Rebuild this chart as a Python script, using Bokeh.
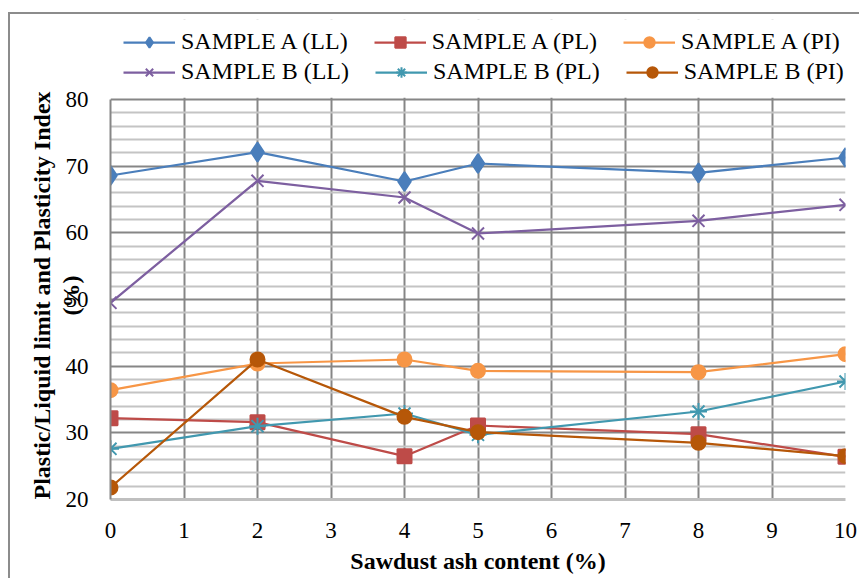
from bokeh.plotting import figure
from bokeh.models import Range1d, FixedTicker, Legend, LegendItem, BoxAnnotation
from bokeh.embed import file_html
from bokeh.resources import INLINE

# ---- data ----
ash_content = [0, 2, 4, 5, 8, 10]
sample_a_ll = [68.6, 72.1, 67.7, 70.4, 69.0, 71.3]
sample_a_pl = [32.2, 31.6, 26.5, 31.1, 29.8, 26.4]
sample_a_pi = [36.4, 40.4, 41.0, 39.3, 39.1, 41.8]
sample_b_ll = [49.5, 67.8, 65.3, 59.9, 61.8, 64.2]
sample_b_pl = [27.6, 31.0, 32.9, 29.7, 33.2, 37.7]
sample_b_pi = [21.8, 41.0, 32.4, 30.1, 28.5, 26.5]

series_names = ["SAMPLE A (LL)", "SAMPLE A (PL)", "SAMPLE A (PI)",
                "SAMPLE B (LL)", "SAMPLE B (PL)", "SAMPLE B (PI)"]
x_ticks = list(range(0, 11))
y_ticks = [20, 30, 40, 50, 60, 70, 80]
y_minor = [v for v in range(20, 81, 2) if v % 10]
x_title = "Sawdust ash content (%)"
y_title_lines = ["Plastic/Liquid limit and Plasticity Index", "(%)"]

FONT = "Liberation Serif, Times New Roman, serif"
PAD = "\u00a0" * 12   # keeps the rotated title centred on the 20-80 span

# frame extends above 80 to hold the legend (area above 80 is blanked)
p = figure(width=851, height=566, output_backend="svg", toolbar_location=None,
           x_range=Range1d(0, 10), y_range=Range1d(20, 92),
           min_border_left=100, min_border_right=16, min_border_top=5,
           min_border_bottom=81, background_fill_color="white",
           border_fill_color="white")
p.outline_line_color = None
# chart-area frame (left and top edges), as in the reference
p.styles = {"position": "relative", "left": "10px", "top": "14px",
            "box-shadow": "-2px -2px 0px 0px #8C8C8C"}

# axes
p.xaxis.ticker = FixedTicker(ticks=x_ticks)
p.yaxis.ticker = FixedTicker(ticks=y_ticks, minor_ticks=y_minor)
p.yaxis.bounds = (y_ticks[0], y_ticks[-1])
for ax in (p.xaxis, p.yaxis):
    ax.major_tick_out = 0
    ax.major_tick_in = 0
    ax.minor_tick_out = 0
    ax.minor_tick_in = 0
    ax.major_label_text_font = FONT
    ax.major_label_text_font_size = "23px"
    ax.major_label_text_color = "black"
    ax.axis_label_text_font = FONT
    ax.axis_label_text_font_style = "bold"
    ax.axis_label_text_font_size = "24px"
    ax.axis_label_text_color = "black"
p.yaxis.axis_line_color = "#868686"
p.yaxis.axis_line_width = 2
p.yaxis.major_label_standoff = 22
p.yaxis.axis_label = "\n".join(line + PAD for line in y_title_lines)
p.yaxis.axis_label_text_line_height = 1.1
p.yaxis.axis_label_standoff = -21
p.xaxis.axis_line_color = "#BFBFBF"
p.xaxis.axis_line_width = 3
p.xaxis.major_label_standoff = 23
p.xaxis.axis_label = x_title
p.xaxis.axis_label_standoff = 7

# grids
p.xgrid.ticker = FixedTicker(ticks=x_ticks)
p.xgrid.grid_line_color = "#868686"
p.xgrid.grid_line_width = 2
p.ygrid.ticker = FixedTicker(ticks=y_ticks, minor_ticks=y_minor)
p.ygrid.grid_line_color = "#868686"
p.ygrid.grid_line_width = 2
p.ygrid.minor_grid_line_color = "#C4C4C4"
p.ygrid.minor_grid_line_width = 2

# series
styles = [
    (sample_a_ll, "#4A7EBB", "diamond", 19),
    (sample_a_pl, "#BE4B48", "square", 14),
    (sample_a_pi, "#F79646", "circle", 14),
    (sample_b_ll, "#7D5FA0", "x", 17),
    (sample_b_pl, "#4198AF", "asterisk", 17),
    (sample_b_pi, "#B65708", "circle", 14),
]
items = []
for name, (ys, color, marker, size) in zip(series_names, styles):
    r1 = p.line(ash_content, ys, line_color=color, line_width=2.25)
    r2 = p.scatter(ash_content, ys, marker=marker, size=size,
                   fill_color=color, line_color=color, line_width=2)
    items.append(LegendItem(label=name, renderers=[r1, r2]))

# blank out the legend strip above the plot area
p.add_layout(BoxAnnotation(bottom=y_ticks[-1] + 0.25, fill_color="white",
                           fill_alpha=1, line_color=None))


def make_legend(its, y):
    return Legend(items=its, orientation="horizontal", location=(13, y),
                  label_text_font=FONT, label_text_font_size="24px",
                  label_text_color="black", glyph_width=52, glyph_height=26,
                  label_height=26, label_standoff=6, spacing=26, padding=0,
                  margin=0, border_line_color=None, background_fill_alpha=0)


p.add_layout(make_legend(items[:3], 444), "center")
p.add_layout(make_legend(items[3:], 414), "center")

open("out.html", "w").write(file_html(p, INLINE))
